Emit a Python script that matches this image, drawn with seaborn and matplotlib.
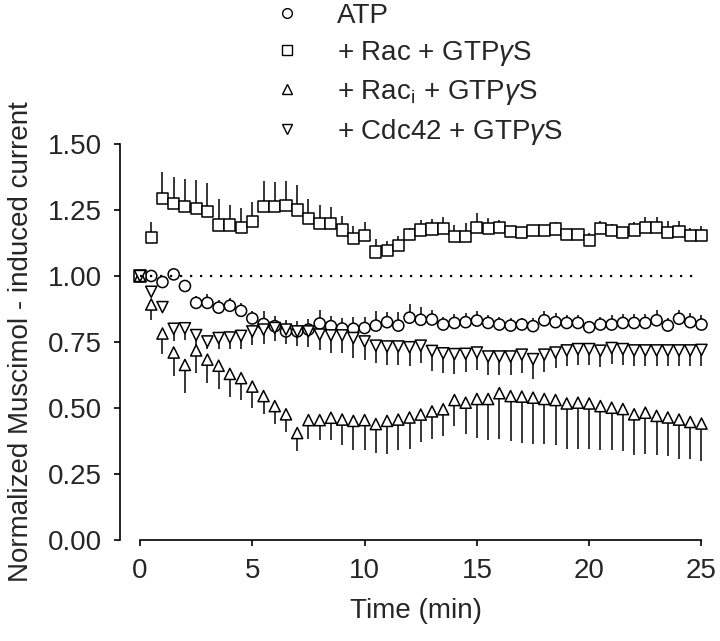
import numpy as np
import pandas as pd
import matplotlib
matplotlib.use("Agg")
import matplotlib.pyplot as plt
import seaborn as sns
from matplotlib.lines import Line2D

# ---------------- data ----------------
time_min = [0.0, 0.5, 1.0, 1.5, 2.0, 2.5, 3.0, 3.5, 4.0, 4.5,
            5.0, 5.5, 6.0, 6.5, 7.0, 7.5, 8.0, 8.5, 9.0, 9.5,
            10.0, 10.5, 11.0, 11.5, 12.0, 12.5, 13.0, 13.5, 14.0, 14.5,
            15.0, 15.5, 16.0, 16.5, 17.0, 17.5, 18.0, 18.5, 19.0, 19.5,
            20.0, 20.5, 21.0, 21.5, 22.0, 22.5, 23.0, 23.5, 24.0, 24.5, 25.0]

atp = [1.000, 1.000, 0.977, 1.006, 0.962, 0.898, 0.898, 0.880, 0.887, 0.868,
       0.839, 0.818, 0.810, 0.790, 0.790, 0.797, 0.820, 0.810, 0.801, 0.800,
       0.803, 0.812, 0.825, 0.812, 0.842, 0.834, 0.835, 0.816, 0.822, 0.825,
       0.831, 0.822, 0.816, 0.812, 0.816, 0.810, 0.832, 0.825, 0.822, 0.822,
       0.806, 0.816, 0.816, 0.822, 0.822, 0.822, 0.832, 0.812, 0.838, 0.825, 0.816]
atp_err = [0.0, 0.0, 0.01, 0.01, 0.02, 0.025, 0.035, 0.03, 0.03, 0.03,
           0.03, 0.05, 0.04, 0.045, 0.04, 0.04, 0.05, 0.04, 0.04, 0.045,
           0.04, 0.055, 0.04, 0.05, 0.05, 0.05, 0.035, 0.03, 0.035, 0.035,
           0.035, 0.03, 0.03, 0.03, 0.025, 0.03, 0.035, 0.035, 0.03, 0.03,
           0.025, 0.03, 0.035, 0.035, 0.035, 0.035, 0.04, 0.03, 0.035, 0.035, 0.035]

rac = [1.000, 1.146, 1.292, 1.273, 1.263, 1.257, 1.245, 1.193, 1.193, 1.184,
       1.206, 1.264, 1.264, 1.267, 1.250, 1.219, 1.200, 1.200, 1.174, 1.142,
       1.152, 1.091, 1.098, 1.114, 1.158, 1.174, 1.178, 1.180, 1.149, 1.149,
       1.184, 1.180, 1.182, 1.168, 1.165, 1.172, 1.172, 1.178, 1.156, 1.156,
       1.136, 1.180, 1.172, 1.165, 1.174, 1.182, 1.182, 1.165, 1.168, 1.152, 1.152]
rac_err = [0.0, 0.057, 0.102, 0.102, 0.106, 0.105, 0.107, 0.097, 0.074, 0.074,
           0.076, 0.094, 0.092, 0.091, 0.093, 0.073, 0.067, 0.060, 0.052, 0.046,
           0.051, 0.049, 0.035, 0.038, 0.024, 0.038, 0.038, 0.042, 0.044, 0.051,
           0.054, 0.039, 0.031, 0.020, 0.020, 0.020, 0.020, 0.027, 0.020, 0.020,
           0.025, 0.030, 0.025, 0.020, 0.030, 0.040, 0.043, 0.045, 0.042, 0.028, 0.038]

rac_i = [1.000, 0.892, 0.782, 0.710, 0.663, 0.718, 0.683, 0.660, 0.629, 0.613,
         0.581, 0.545, 0.507, 0.476, 0.405, 0.454, 0.454, 0.463, 0.456, 0.451,
         0.454, 0.439, 0.451, 0.456, 0.464, 0.475, 0.487, 0.495, 0.530, 0.520,
         0.534, 0.534, 0.556, 0.545, 0.543, 0.539, 0.534, 0.530, 0.517, 0.520,
         0.517, 0.507, 0.501, 0.496, 0.476, 0.482, 0.470, 0.464, 0.456, 0.447, 0.441]
rac_i_err = [0.0, 0.057, 0.076, 0.090, 0.107, 0.086, 0.090, 0.090, 0.086, 0.083,
             0.080, 0.066, 0.066, 0.066, 0.068, 0.070, 0.076, 0.085, 0.097, 0.110,
             0.114, 0.110, 0.124, 0.116, 0.118, 0.105, 0.103, 0.100, 0.100, 0.117,
             0.146, 0.154, 0.172, 0.170, 0.176, 0.174, 0.172, 0.171, 0.171, 0.174,
             0.173, 0.167, 0.161, 0.159, 0.156, 0.155, 0.150, 0.147, 0.148, 0.139, 0.140]

cdc42 = [1.000, 0.940, 0.882, 0.800, 0.802, 0.776, 0.752, 0.765, 0.767, 0.773,
         0.790, 0.797, 0.803, 0.797, 0.790, 0.790, 0.778, 0.775, 0.775, 0.765,
         0.752, 0.736, 0.733, 0.733, 0.730, 0.736, 0.716, 0.707, 0.704, 0.705,
         0.710, 0.695, 0.695, 0.695, 0.702, 0.685, 0.702, 0.710, 0.718, 0.723,
         0.723, 0.717, 0.727, 0.723, 0.718, 0.718, 0.718, 0.718, 0.718, 0.718, 0.720]
cdc42_err = [0.0, 0.02, 0.02, 0.045, 0.045, 0.04, 0.03, 0.04, 0.045, 0.05,
             0.05, 0.055, 0.05, 0.055, 0.055, 0.06, 0.06, 0.067, 0.065, 0.075,
             0.07, 0.066, 0.07, 0.07, 0.07, 0.065, 0.076, 0.073, 0.075, 0.07,
             0.065, 0.07, 0.07, 0.07, 0.07, 0.075, 0.065, 0.06, 0.06, 0.06,
             0.06, 0.06, 0.06, 0.06, 0.06, 0.06, 0.06, 0.06, 0.06, 0.06, 0.06]

series_labels = ["ATP", "+ Rac + GTP$\\gamma$S", "+ Rac$_\\mathrm{i}$ + GTP$\\gamma$S",
                 "+ Cdc42 + GTP$\\gamma$S"]
series_values = [atp, rac, rac_i, cdc42]
series_errors = [atp_err, rac_err, rac_i_err, cdc42_err]
error_up = [True, True, False, False]
series_markers = ["o", "s", "^", "v"]

ref_level = 1.0
x_ticks = [0, 5, 10, 15, 20, 25]
x_tick_labels = ["0", "5", "10", "15", "20", "25"]
y_ticks = [0.00, 0.25, 0.50, 0.75, 1.00, 1.25, 1.50]
y_tick_labels = ["0.00", "0.25", "0.50", "0.75", "1.00", "1.25", "1.50"]
x_label = "Time (min)"
y_label = "Normalized Muscimol - induced current"

# ---------------- style ----------------
sns.set_style("ticks")
plt.rcParams["font.family"] = ["Liberation Sans", "DejaVu Sans"]
plt.rcParams["mathtext.fontset"] = "custom"
plt.rcParams["mathtext.rm"] = "Liberation Sans"
plt.rcParams["mathtext.it"] = "Liberation Sans:italic"
FS = 20

rows = []
for lab, vals in zip(series_labels, series_values):
    for t, v in zip(time_min, vals):
        rows.append({"time": t, "value": v, "series": lab})
df = pd.DataFrame(rows)

fig = plt.figure(figsize=(7.2, 6.41), dpi=100)
ax = fig.add_axes([0.1667, 0.1576, 0.8232, 0.6178])

# error bars (one-sided)
for vals, errs, up in zip(series_values, series_errors, error_up):
    zeros = [0.0] * len(errs)
    yerr = [zeros, errs] if up else [errs, zeros]
    ax.errorbar(time_min, vals, yerr=yerr, fmt="none", ecolor="black",
                elinewidth=1.1, capsize=0, zorder=2)

sns.scatterplot(data=df, x="time", y="value", style="series",
                markers=dict(zip(series_labels, series_markers)),
                s=64, color="white", edgecolor="black", linewidth=1.1,
                legend=False, ax=ax, zorder=3)

# reference dotted line (drawn over the markers, as in the original)
ax.hlines(ref_level, time_min[0], time_min[-1] - 0.4, colors="black",
          linestyles=(0, (1, 3.5)), linewidth=1.6, zorder=4)

ax.set_xlim(-0.89, 25.5)
ax.set_ylim(0, 1.5)
ax.set_xticks(x_ticks)
ax.set_xticklabels(x_tick_labels)
ax.set_yticks(y_ticks)
ax.set_yticklabels(y_tick_labels)
ax.set_xlabel(x_label, fontsize=FS, labelpad=10)
ax.set_ylabel(y_label, fontsize=FS, labelpad=10)
ax.tick_params(axis="both", labelsize=FS, length=4, width=1.2, color="black",
               pad=9, direction="out")

sns.despine(ax=ax)
ax.spines["left"].set_bounds(0, 1.5)
ax.spines["bottom"].set_bounds(0, 25)
for sp in ("left", "bottom"):
    ax.spines[sp].set_linewidth(1.2)
    ax.spines[sp].set_color("black")

handles = [Line2D([], [], marker=m, linestyle="none", markerfacecolor="white",
                  markeredgecolor="black", markersize=7, markeredgewidth=1.0)
           for m in series_markers]
ax.legend(handles, series_labels, loc="upper left", bbox_to_anchor=(0.3799, 0.996),
          bbox_transform=fig.transFigure, frameon=False, handlelength=1.0,
          handletextpad=1.27, labelspacing=0.36, borderpad=0, borderaxespad=0,
          fontsize=FS)

fig.savefig("out.png", dpi=100)
